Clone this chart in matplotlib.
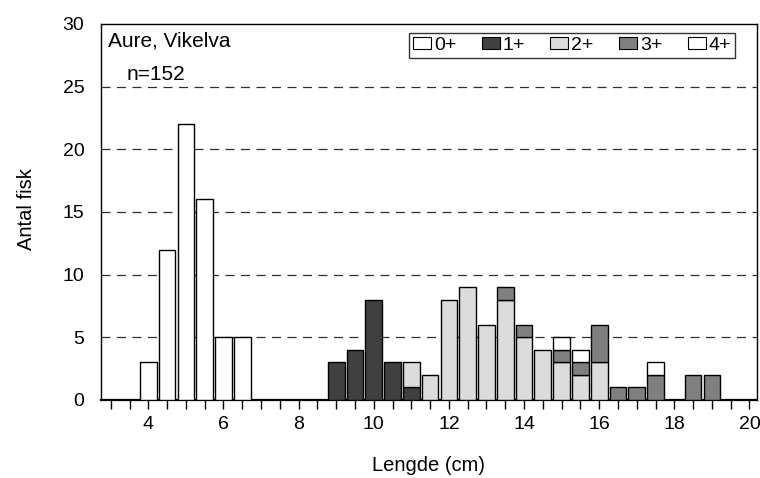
import matplotlib
matplotlib.use("Agg")
import matplotlib.pyplot as plt
import numpy as np
from matplotlib.patches import Patch

plt.rcParams['font.family'] = ['Liberation Sans', 'DejaVu Sans']

lengths = [3.0, 3.5, 4.0, 4.5, 5.0, 5.5, 6.0, 6.5, 7.0, 7.5, 8.0, 8.5, 9.0, 9.5,
           10.0, 10.5, 11.0, 11.5, 12.0, 12.5, 13.0, 13.5, 14.0, 14.5, 15.0, 15.5,
           16.0, 16.5, 17.0, 17.5, 18.0, 18.5, 19.0, 19.5, 20.0]
age0 = [0, 0, 3, 12, 22, 16, 5, 5, 0, 0, 0, 0, 0, 0, 0, 0, 0, 0, 0, 0, 0, 0,
        0, 0, 0, 0, 0, 0, 0, 0, 0, 0, 0, 0, 0]
age1 = [0, 0, 0, 0, 0, 0, 0, 0, 0, 0, 0, 0, 3, 4, 8, 3, 1, 0, 0, 0, 0, 0,
        0, 0, 0, 0, 0, 0, 0, 0, 0, 0, 0, 0, 0]
age2 = [0, 0, 0, 0, 0, 0, 0, 0, 0, 0, 0, 0, 0, 0, 0, 0, 2, 2, 8, 9, 6, 8,
        5, 4, 3, 2, 3, 0, 0, 0, 0, 0, 0, 0, 0]
age3 = [0, 0, 0, 0, 0, 0, 0, 0, 0, 0, 0, 0, 0, 0, 0, 0, 0, 0, 0, 0, 0, 1,
        1, 0, 1, 1, 3, 1, 1, 2, 0, 2, 2, 0, 0]
age4 = [0, 0, 0, 0, 0, 0, 0, 0, 0, 0, 0, 0, 0, 0, 0, 0, 0, 0, 0, 0, 0, 0,
        0, 0, 1, 1, 0, 0, 0, 1, 0, 0, 0, 0, 0]
series_labels = ['0+', '1+', '2+', '3+', '4+']
colors = ['#ffffff', '#404040', '#dcdcdc', '#808080', '#ffffff']
xtick_labels = [4, 6, 8, 10, 12, 14, 16, 18, 20]
yticks = [0, 5, 10, 15, 20, 25, 30]

W, H = 760, 478
L, R, T, B = 101, 757, 24, 400
fig = plt.figure(figsize=(W/100, H/100), dpi=100)
ax = fig.add_axes([L/W, 1-B/H, (R-L)/W, (B-T)/H])
aw, ah = R - L, B - T

x = np.array(lengths)
bottom = np.zeros(len(x))
for vals, col in zip([age0, age1, age2, age3, age4], colors):
    v = np.array(vals, dtype=float)
    mask = v > 0
    ax.bar(x[mask], v[mask], width=0.445, bottom=bottom[mask], color=col,
           edgecolor='black', linewidth=1.0, zorder=3)
    bottom += v

ax.set_xlim(2.74, 20.2)
ax.set_ylim(0, 30)
ax.set_yticks(yticks)
ax.set_xticks(lengths)
ax.set_xticklabels([str(int(v)) if (v in xtick_labels) else '' for v in lengths])
ax.tick_params(axis='x', direction='out', length=6.5, width=1, pad=5.3, labelsize=14)
ax.tick_params(axis='y', length=0, pad=12, labelsize=14)
for yv in yticks[1:-1]:
    ax.axhline(yv, color='#303030', linestyle=(0, (7.2, 5.2)), linewidth=0.9, zorder=1)

for sp in ax.spines.values():
    sp.set_linewidth(1.0)
ax.spines['bottom'].set_linewidth(1.6)

ax.set_xlabel('Lengde (cm)', fontsize=14.5, va='baseline')
ax.xaxis.set_label_coords(0.5, (B - 471) / ah)
ax.set_ylabel('Antal fisk', fontsize=14.5, va='center')
ax.yaxis.set_label_coords((27 - L) / aw, (B - 209) / ah)

ax.text((108 - L) / aw, (B - 47) / ah, 'Aure, Vikelva', transform=ax.transAxes,
        fontsize=15, va='baseline', ha='left')
ax.text((127 - L) / aw, (B - 80) / ah, 'n=152', transform=ax.transAxes,
        fontsize=15, va='baseline', ha='left')

handles = [Patch(facecolor=c, edgecolor='black', linewidth=0.8) for c in colors]
lx0, lx1, ly0, ly1 = 409, 735, 33, 59
leg = ax.legend(handles, series_labels, ncol=5, loc='upper left', mode='expand',
                bbox_to_anchor=((lx0 - L) / aw, (B - ly1) / ah,
                                (lx1 - lx0) / aw, (ly1 - ly0) / ah),
                fontsize=14, frameon=True, fancybox=False, edgecolor='black',
                handlelength=0.93, handleheight=0.55, handletextpad=0.15,
                columnspacing=0.9, borderpad=0.2, borderaxespad=0)
leg.get_frame().set_linewidth(1.0)
leg.set_zorder(5)

fig.savefig('out.png', dpi=100)
